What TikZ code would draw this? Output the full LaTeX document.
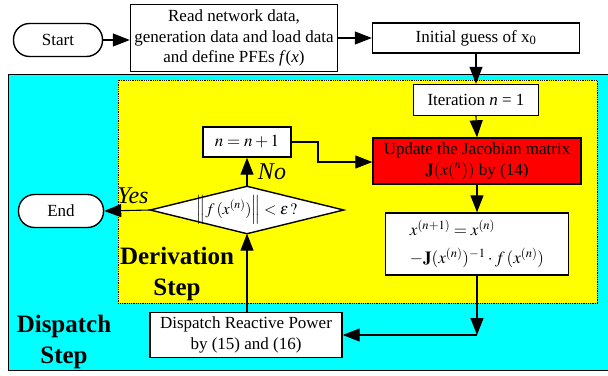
\documentclass[tikz,border=0pt]{standalone}
\usepackage{mathptmx}
\usepackage{fontspec}
\setmainfont{Liberation Serif}
\usetikzlibrary{shapes.geometric,arrows.meta}
\definecolor{cyanbg}{RGB}{0,255,255}
\definecolor{yellowbg}{RGB}{255,255,0}
\definecolor{redbox}{RGB}{255,0,0}
\begin{document}
\begin{tikzpicture}[x=1pt,y=-1pt,
  box/.style={draw, line width=1.4pt, fill=white, align=center, inner sep=1pt,
    font=\fontsize{17}{20.5}\selectfont},
  term/.style={box, rounded corners=16pt},
  conn/.style={line width=1.1pt, -{Triangle[length=17pt,width=13pt]}},
  steplabel/.style={font=\fontsize{25}{31}\selectfont\bfseries, align=center},
  answer/.style={font=\fontsize{24}{28}\selectfont\itshape, inner sep=0pt}]
\useasboundingbox (0,0) rectangle (608,375);
% backgrounds
\draw[fill=cyanbg, line width=1pt] (8,74) rectangle (614,370);
\draw[fill=yellowbg, densely dotted, line width=0.8pt] (118,80) rectangle (597,303);

% nodes
\node[term, minimum width=89pt, minimum height=33pt] (start) at (58,40) {Start};
\node[box, minimum width=207pt, minimum height=67pt] (read) at (234,38)
  {Read network data,\\generation data and load data\\and define PFEs \textit{f}(\textit{x})};
\node[box, minimum width=207pt, minimum height=30pt] (init) at (476,38) {Initial guess of x\textsubscript{0}};
\node[box, minimum width=125pt, minimum height=31pt] (iter) at (476,100) {Iteration \textit{n} = 1};
\node[box, fill=redbox, minimum width=208pt, minimum height=46pt] (upd) at (477,161)
  {Update the Jacobian matrix\\$\mathbf{J}(x(^{n}))$ by (14)};
\node[box, minimum width=183pt, minimum height=62pt, align=left] (xupd) at (477,244)
  {$x^{(n+1)} = x^{(n)}$\\[7pt]$-\mathbf{J}(x^{(n)})^{-1}\cdot f\,(x^{(n)})$};
\node[box, minimum width=192pt, minimum height=45pt] (disp) at (246,335)
  {Dispatch Reactive Power\\by (15) and (16)};
\node[minimum width=193pt, minimum height=47pt, inner sep=0pt] (dia) at (247,210) {};
\node[box, minimum width=88pt, minimum height=30pt] (nbox) at (247,142) {$n = n + 1$};
\node[term, minimum width=85pt, minimum height=33pt] (end) at (61,211) {End};
\coordinate (corner) at (477,335);
\coordinate (b1) at (318,142);
\coordinate (b2) at (318,162);

% decision diamond outline and its text
\draw[line width=1.4pt, fill=white] (dia.west) -- (dia.north) -- (dia.east) -- (dia.south) -- cycle;
\node[inner sep=0pt, font=\fontsize{16}{19}\selectfont] (diatext) at (dia.center)
  {$\left\| f\,(x^{(n)}) \right\| < \varepsilon\,?$};

% labels
\node[answer] (no) at (272,172) {No};
\node[answer] (yes) at (133,196) {Yes};
\node[steplabel] (deriv) at (177,274) {Derivation\\Step};
\node[steplabel] (dispatch) at (64,342) {Dispatch\\Step};

% connectors
\draw[conn] (start.east) -- (read.west |- start.east);
\draw[conn] (read.east |- init.west) -- (init.west);
\draw[conn] (init.south) -- (iter.north);
\draw[conn] (iter.south) -- (upd.north);
\draw[conn] (upd.south) -- (xupd.north);
\draw[conn] (xupd.south) -- (corner);
\draw[conn] (corner) -- (disp.east |- corner);
\draw[conn] (disp.north -| dia.south) -- (dia.south);
\draw[conn] (dia.north) -- (nbox.south);
\draw[conn] (nbox.east) -- (b1) -- (b2) -- (upd.west |- b2);
\draw[conn] (dia.west) -- (end.east);
\end{tikzpicture}
\end{document}
